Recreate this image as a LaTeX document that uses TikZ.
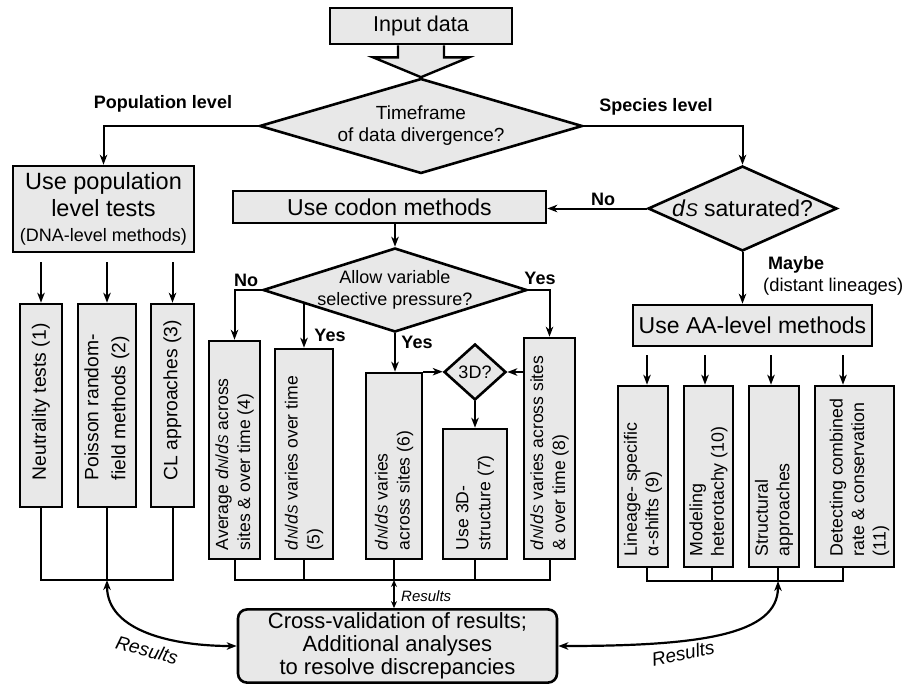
\documentclass[tikz,border=0pt]{standalone}
\usepackage{fontspec}
\setmainfont{Liberation Sans}
\usetikzlibrary{arrows.meta,shapes.geometric,calc}
\definecolor{boxfill}{gray}{0.91}
\newcommand{\fsz}[2]{\fontsize{#1}{#2}\selectfont}
\newcommand{\myDN}{\textit{d}\scalebox{0.8}{\textit{N}}}
\newcommand{\myDS}{\textit{d}\scalebox{0.8}{\textit{S}}}
\begin{document}
\begin{tikzpicture}[x=1pt,y=-1pt,
  box/.style={draw, line width=2.6pt, fill=boxfill, rectangle, inner sep=0pt},
  dia/.style={draw, line width=2.6pt, fill=boxfill, diamond, inner sep=0pt},
  conn/.style={line width=2pt, -{Stealth[length=10pt,width=7.5pt,inset=3pt]}},
  plain/.style={line width=2pt},
  lbl/.style={font=\bfseries\fsz{18}{21}, inner sep=0pt},
  vtext/.style={rotate=90, anchor=west, align=left, inner sep=0pt},
  dtext/.style={align=center, inner sep=0pt},
  dblarr/.style={{Stealth[length=10pt,width=7.5pt,inset=3pt]}-{Stealth[length=10pt,width=7.5pt,inset=3pt]}}
]
\path[use as bounding box] (0,0) rectangle (909,683);

% top
\node[box, minimum width=182pt, minimum height=36pt, font=\fsz{21.5}{25}] (inp) at (421,26) {Input data};
\node[dia, minimum width=323pt, minimum height=95pt] (main) at (421,126) {};
\node[dtext, font=\fsz{19}{22}] (tmain) at (main.center) {Timeframe\\of data divergence?};
\draw[line width=2.4pt, fill=boxfill] ($(inp.south)+(-23,0)$) -- ($(inp.south)+(-23,12)$) -- ($(inp.south)+(-48,12)$) -- (main.north) -- ($(inp.south)+(48,12)$) -- ($(inp.south)+(23,12)$) -- ($(inp.south)+(23,0)$);

% population side
\node[lbl] (lpop) at (163,104) {Population level};
\node[box, minimum width=181pt, minimum height=86pt, align=center, font=\fsz{23.5}{27}] (pop) at (103.5,209) {Use population\\level tests\\[-2pt]{\fsz{18}{21}(DNA-level methods)}};
\draw[conn] (main.west) -| (pop.north);

\node[box, minimum width=42pt, minimum height=203pt] (n1) at (41,405.5) {};
\node[box, minimum width=58pt, minimum height=203pt] (n2) at (107,405.5) {};
\node[box, minimum width=43pt, minimum height=203pt] (n3) at (172.5,405.5) {};
\node[vtext, font=\fsz{19.3}{27}] (t1) at ([yshift=28pt]n1.south) {Neutrality tests (1)};
\node[vtext, font=\fsz{19.3}{27}] (t2) at ([yshift=28pt]n2.south) {Poisson random-\\field methods (2)};
\node[vtext, font=\fsz{19.3}{27}] (t3) at ([yshift=28pt]n3.south) {CL approaches (3)};
\draw[conn, shorten <=9pt] (pop.south -| n1.north) -- (n1.north);
\draw[conn, shorten <=9pt] (pop.south -| n2.north) -- (n2.north);
\draw[conn, shorten <=9pt] (pop.south -| n3.north) -- (n3.north);
\coordinate (lbar) at (0,580);
\draw[plain] (n1.south) |- (n3.south |- lbar) -- (n3.south);
\draw[plain] (n2.south) -- (n2.south |- lbar);

% species side
\node[lbl] (lsp) at (656,107) {Species level};
\node[dia, minimum width=189pt, minimum height=85pt] (ds) at (742.5,208.5) {};
\node[dtext, font=\fsz{23}{27}] (tds) at (ds.center) {\myDS{} saturated?};
\draw[conn] (main.east) -| (ds.north);

\node[box, minimum width=313pt, minimum height=32pt, font=\fsz{23}{27}] (codon) at (389.5,207) {Use codon methods};
\draw[conn] (ds.west) -- (ds.west -| codon.east);
\node[lbl] (lno1) at (603,199) {No};

\node[box, minimum width=239pt, minimum height=41pt, font=\fsz{23}{27}] (aa) at (752.5,325.5) {Use AA-level methods};
\draw[conn] (ds.south) -- (ds.south |- aa.north);
\node[lbl, anchor=west] (lmay) at (768,265) {Maybe};
\node[anchor=west, font=\fsz{18.4}{22}, inner sep=0pt] (ldist) at (763,287) {(distant lineages)};

% codon branch
\node[dia, minimum width=264pt, minimum height=84pt] (allow) at (395,290) {};
\node[dtext, font=\fsz{18}{22}] (tallow) at (allow.center) {Allow variable\\selective pressure?};
\draw[conn] (allow.north |- codon.south) -- (allow.north);

\node[box, minimum width=51pt, minimum height=218pt] (n4) at (234.5,450) {};
\node[box, minimum width=58pt, minimum height=210pt] (n5) at (304,454) {};
\node[box, minimum width=56pt, minimum height=186pt] (n6) at (394,466) {};
\node[box, minimum width=64pt, minimum height=130pt] (n7) at (475,494) {};
\node[box, minimum width=51pt, minimum height=221pt] (n8) at (549.5,448.5) {};
\node[dia, minimum width=62pt, minimum height=56pt] (d3) at (475,372) {};
\node[dtext, font=\fsz{18}{22}] (td3) at (d3.center) {3D?};

\node[vtext, font=\fsz{17.6}{22}] (t4) at ([yshift=10pt]n4.south) {Average \myDN/\myDS{} across\\sites \& over time (4)};
\node[vtext, font=\fsz{17.6}{22}] (t5) at ([yshift=10pt]n5.south) {\myDN/\myDS{} varies over time\\(5)};
\node[vtext, font=\fsz{17.6}{22}] (t6) at ([yshift=10pt]n6.south) {\myDN/\myDS{} varies\\across sites (6)};
\node[vtext, font=\fsz{17.6}{22}] (t7) at ([yshift=10pt]n7.south) {Use 3D-\\structure (7)};
\node[vtext, font=\fsz{17.6}{22}] (t8) at ([yshift=10pt]n8.south) {\myDN/\myDS{} varies across sites\\\& over time (8)};

\draw[conn] (allow.west) -| (n4.north);
\node[lbl] (lno2) at (246,280) {No};
\coordinate (yl) at ($(allow.west)!0.316!(allow.south)$);
\draw[conn] (yl -| n5.north) -- (n5.north);
\node[lbl] (ly1) at (330,335) {Yes};
\draw[conn] (allow.south) -- (allow.south |- n6.north);
\node[lbl] (ly2) at (417,342) {Yes};
\draw[conn] (allow.east) -| (n8.north);
\node[lbl] (ly3) at (540,278) {Yes};
\draw[conn] (n6.north east) -- (n6.north east -| d3.west);
\draw[conn] (n8.west |- d3.east) -- (d3.east);
\draw[conn] (d3.south) -- (n7.north);

\coordinate (mbar) at (0,580);
\draw[plain] (n4.south) |- (n8.south |- mbar) -- (n8.south);
\draw[plain] (n5.south) -- (n5.south |- mbar);
\draw[plain] (n6.south) -- (n6.south |- mbar);
\draw[plain] (n7.south) -- (n7.south |- mbar);

% AA branch
\node[box, minimum width=50pt, minimum height=181pt] (n9) at (643,476.5) {};
\node[box, minimum width=49pt, minimum height=181pt] (n10) at (708.5,476.5) {};
\node[box, minimum width=50pt, minimum height=181pt] (n11) at (774,476.5) {};
\node[box, minimum width=79pt, minimum height=181pt] (n12) at (854.5,476.5) {};
\node[vtext, font=\fsz{17.8}{21.5}] (t9) at ([yshift=12pt]n9.south) {Lineage- specific\\α-shifts (9)};
\node[vtext, font=\fsz{17.8}{21.5}] (t10) at ([yshift=12pt]n10.south) {Modeling\\heterotachy (10)};
\node[vtext, font=\fsz{17.8}{21.5}] (t11) at ([yshift=12pt]n11.south) {Structural\\approaches};
\node[vtext, font=\fsz{17.8}{21.5}] (t12) at ([xshift=5pt,yshift=12pt]n12.south) {Detecting combined\\rate \& conservation\\(11)};

\coordinate (a9) at (647,0);
\coordinate (a10) at (705,0);
\coordinate (a11) at (771,0);
\coordinate (a12) at (843,0);
\draw[conn, shorten <=8pt] (aa.south -| a9) -- (n9.north -| a9);
\draw[conn, shorten <=8pt] (aa.south -| a10) -- (n10.north -| a10);
\draw[conn, shorten <=8pt] (aa.south -| a11) -- (n11.north -| a11);
\draw[conn, shorten <=8pt] (aa.south -| a12) -- (n12.north -| a12);

\coordinate (b9) at (647,0);
\coordinate (b10) at (712,0);
\coordinate (b11) at (778,0);
\coordinate (b12) at (843,0);
\coordinate (rbar) at (0,581);
\draw[plain] (n9.south -| b9) |- (rbar -| b12) -- (n12.south -| b12);
\draw[plain] (n10.south -| b10) -- (rbar -| b10);
\draw[plain] (n11.south -| b11) -- (rbar -| b11);

% results
\node[draw, line width=2.6pt, fill=boxfill, rounded corners=9pt, minimum width=319pt, minimum height=68pt, align=center, font=\fsz{22}{23}] (res) at (397.5,646) {Cross-validation of results;\\Additional analyses\\to resolve discrepancies};
\draw[line width=1.6pt, {Stealth[length=7pt,width=6pt]}-{Stealth[length=7pt,width=6pt]}] (n6.south |- mbar) -- (n6.south |- res.north);
\node[font=\itshape\fsz{15}{18}, anchor=west, inner sep=0pt] (lres) at (401,596) {Results};
\draw[line width=2.2pt, dblarr] (n2.south |- lbar) .. controls (107,632) and (175,646) .. (res.west);
\draw[line width=2.2pt, dblarr] (res.east) .. controls (700,646) and (778,635) .. (rbar -| b11);
\node[font=\itshape\fsz{19}{22}, rotate=-15, inner sep=0pt] (lrl) at (147,650) {Results};
\node[font=\itshape\fsz{19}{22}, rotate=12, inner sep=0pt] (lrr) at (683,653) {Results};
\end{tikzpicture}
\end{document}
